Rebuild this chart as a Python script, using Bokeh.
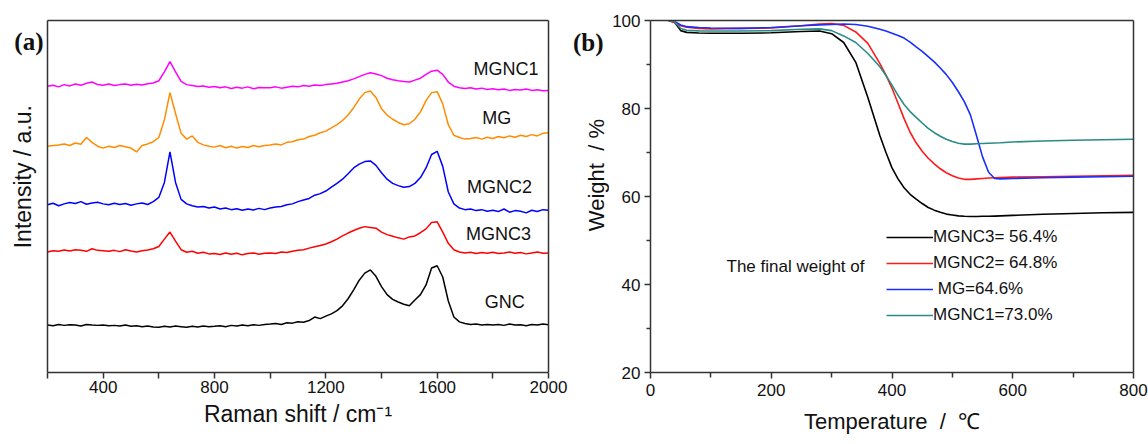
import math
from bokeh.plotting import figure
from bokeh.layouts import row
from bokeh.models import (Range1d, FixedTicker, Label, Legend, LegendItem,
                          ColumnDataSource, LinearAxis)
from bokeh.embed import file_html
from bokeh.resources import INLINE
from bokeh.core.properties import value

# ---------------- data: (a) Raman spectra (offset intensities, a.u.) ----------------
RAMAN_SHIFT = list(range(200, 2001, 20))

GNC = [148, 146, 150, 147, 149, 148, 145, 150, 148, 147,
       148, 146, 147, 145, 148, 144, 146, 143, 145, 142,
       141, 144, 142, 145, 143, 141, 144, 142, 145, 143,
       144, 146, 143, 147, 145, 148, 146, 149, 147, 150,
       151, 153, 150, 155, 154, 158, 157, 162, 173, 168,
       176, 183, 193, 208, 230, 258, 288, 310, 320, 300,
       268, 243, 228, 220, 213, 208, 226, 243, 273, 326,
       333, 298, 223, 173, 158, 153, 150, 151, 148, 150,
       148, 150, 147, 151, 148, 149, 146, 150, 148, 151,
       149]

MGNC3_R = [376, 380, 378, 382, 379, 383, 381, 378, 386, 381,
           380, 378, 381, 377, 383, 379, 376, 380, 382, 386,
           393, 416, 438, 410, 383, 375, 378, 372, 375, 370,
           371, 368, 373, 369, 372, 367, 371, 373, 369, 372,
           373, 371, 376, 374, 378, 381, 383, 388, 392, 396,
           401, 408, 416, 426, 435, 443, 450, 455, 452, 450,
           438, 430, 425, 420, 416, 423, 426, 436, 448, 468,
           470, 438, 403, 383, 376, 373, 375, 371, 374, 372,
           375, 371, 373, 376, 372, 374, 370, 373, 376, 372,
           373]

MGNC2_R = [523, 528, 520, 526, 530, 527, 533, 525, 529, 531,
           526, 523, 528, 524, 527, 522, 526, 529, 524, 533,
           546, 593, 688, 593, 540, 526, 520, 516, 518, 513,
           516, 510, 513, 508, 511, 506, 510, 507, 512, 508,
           513, 516, 518, 523, 526, 533, 538, 543, 553, 558,
           566, 578, 590, 603, 620, 638, 650, 658, 660, 646,
           623, 603, 590, 583, 578, 580, 590, 608, 638, 680,
           690, 643, 563, 526, 513, 508, 510, 505, 508, 503,
           506, 502, 510, 500, 505, 503, 498, 506, 502, 508,
           506]

MG_R = [706, 708, 710, 713, 708, 716, 712, 733, 718, 706,
        700, 706, 702, 708, 704, 700, 688, 708, 713, 720,
        733, 788, 873, 808, 746, 728, 738, 718, 710, 706,
        703, 708, 701, 706, 700, 705, 702, 708, 704, 708,
        710, 713, 710, 718, 720, 726, 728, 736, 740, 748,
        753, 763, 773, 786, 803, 826, 853, 873, 878, 858,
        823, 803, 790, 780, 773, 776, 790, 813, 848, 873,
        876, 838, 773, 740, 733, 728, 730, 733, 728, 734,
        730, 736, 732, 738, 734, 740, 736, 742, 738, 746,
        748]

MGNC1_R = [893, 896, 891, 898, 894, 900, 896, 902, 906, 898,
           896, 900, 895, 898, 900, 896, 899, 897, 901, 903,
           910, 938, 970, 938, 908, 898, 895, 892, 894, 890,
           892, 888, 891, 886, 890, 887, 891, 885, 889, 888,
           888, 891, 887, 890, 893, 891, 895, 893, 897, 895,
           898, 900, 902, 906, 910, 916, 923, 930, 935, 931,
           926, 918, 913, 910, 908, 906, 912, 918, 930, 940,
           943, 930, 906, 893, 888, 886, 888, 884, 887, 883,
           885, 882, 884, 880, 883, 881, 884, 880, 882, 879,
           880]

RAMAN_NAMES = ["MGNC1", "MG", "MGNC2", "MGNC3", "GNC"]

# ---------------- data: (b) TGA curves (weight %) ----------------
TEMP = [30, 40, 50, 60, 80, 100, 150, 200, 250, 280, 300, 320, 340, 360, 380,
        390, 400, 410, 420, 430, 440, 450, 460, 470, 480, 490, 500, 510, 520,
        530, 540, 550, 560, 570, 580, 600, 650, 700, 750, 800]

MGNC3_T = [100, 99.6, 97.7, 97.3, 97.15, 97.1, 97.1, 97.2, 97.5, 97.6, 97.0, 95.0, 90.5, 82.5, 73.8,
           70.0, 66.5, 64.0, 62.0, 60.5, 59.4, 58.4, 57.5, 56.9, 56.4, 56.0, 55.8, 55.6, 55.5,
           55.45, 55.45, 55.5, 55.5, 55.55, 55.6, 55.7, 55.95, 56.15, 56.3, 56.4]
MGNC2_T = [100, 99.5, 98.8, 98.5, 98.2, 98.1, 98.2, 98.3, 98.8, 99.2, 99.3, 98.9, 97.4, 94.8, 90.2,
           87.6, 84.6, 81.2, 77.7, 74.6, 72.2, 70.3, 68.7, 67.4, 66.3, 65.4, 64.7, 64.2, 63.9,
           63.9, 64.0, 64.1, 64.2, 64.25, 64.3, 64.4, 64.5, 64.6, 64.7, 64.8]
MG_T = [100, 99.8, 99.0, 98.6, 98.4, 98.3, 98.2, 98.4, 98.8, 99.0, 99.1, 99.2, 99.1, 98.7, 98.0,
        97.6, 97.1, 96.6, 96.0, 95.1, 94.0, 93.0, 91.8, 90.6, 89.2, 87.7, 85.9, 83.8, 81.5,
        78.5, 73.8, 69.0, 65.5, 64.1, 64.0, 64.1, 64.25, 64.4, 64.5, 64.6]
MGNC1_T = [100, 99.7, 98.2, 97.8, 97.65, 97.6, 97.6, 97.7, 98.0, 98.1, 97.7, 96.5, 95.0, 92.5, 89.5,
           87.5, 85.3, 83.0, 80.9, 79.3, 78.0, 76.7, 75.5, 74.5, 73.7, 73.0, 72.5, 72.1, 71.9,
           71.9, 72.0, 72.05, 72.1, 72.15, 72.2, 72.4, 72.6, 72.8, 72.9, 73.0]
TGA_LABELS = ["MGNC3= 56.4%", "MGNC2= 64.8%", " MG=64.6%", "MGNC1=73.0%"]

# ---------------- styling ----------------
SANS = "Liberation Sans"
SERIF = "Liberation Serif"
AXIS = "#333333"
TXT = "#111111"
H = 444


def style_axis(ax):
    ax.axis_line_color = AXIS
    ax.axis_line_width = 1.5
    ax.major_tick_line_color = AXIS
    ax.minor_tick_line_color = AXIS
    ax.major_tick_line_width = 1.5
    ax.minor_tick_line_width = 1.5
    ax.major_tick_in = 0
    ax.minor_tick_in = 0
    ax.major_label_text_font = SANS
    ax.major_label_text_font_size = "17px"
    ax.major_label_text_color = TXT
    ax.axis_label_text_font = SANS
    ax.axis_label_text_font_style = "normal"
    ax.axis_label_text_color = TXT


def add_box(p):
    """Close the frame with plain axes on top and right (no ticks, no labels)."""
    for side in ("above", "right"):
        ax = LinearAxis(ticker=FixedTicker(ticks=[]), major_tick_out=0, minor_tick_out=0,
                        major_tick_in=0, minor_tick_in=0, major_label_standoff=0,
                        axis_label_standoff=0,
                        axis_line_color=AXIS, axis_line_width=1.5)
        p.add_layout(ax, side)


def strip(width, texts):
    """A narrow text strip holding the panel letter and the y-axis title."""
    s = figure(width=width, height=H, output_backend="svg", toolbar_location=None,
               x_range=Range1d(0, width), y_range=Range1d(0, H),
               x_axis_type=None, y_axis_type=None,
               min_border_left=0, min_border_right=0, min_border_top=0, min_border_bottom=0)
    s.outline_line_color = None
    s.background_fill_color = "white"
    for (x, y, t, font, size, style, align, angle) in texts:
        s.text(x=[x], y=[y], text=[t], text_font=value(font), text_font_size=size,
               text_font_style=style, text_align=align, text_baseline="middle",
               angle=angle, text_color=TXT)
    return s


# ---------------- left strip for panel (a) ----------------
sa = strip(45, [
    (43, H - 26, "(a)", SERIF, "25px", "bold", "right", 0),
    (22, H - 197, "Intensity / a.u.", SANS, "23px", "normal", "center", math.pi / 2),
])

# ---------------- panel (a) ----------------
pa = figure(width=525, height=H, output_backend="svg", toolbar_location=None,
            x_range=Range1d(200, 2000), y_range=Range1d(0, 1098),
            min_border_left=2, min_border_right=22, min_border_top=13, min_border_bottom=65)
pa.xgrid.visible = False
pa.ygrid.visible = False
pa.outline_line_color = None
xa, ya = pa.xaxis[0], pa.yaxis[0]
style_axis(xa)
style_axis(ya)

raman_series = [MGNC1_R, MG_R, MGNC2_R, MGNC3_R, GNC]
raman_colors = ["#FF00FF", "#FF8C00", "#0000FF", "#FF0000", "#000000"]
for ys, c in zip(raman_series, raman_colors):
    pa.line(RAMAN_SHIFT, ys, line_color=c, line_width=1.5)

lab_src = ColumnDataSource(dict(x=[1847, 1814, 1824, 1820, 1843],
                                y=[948, 793, 578, 431, 220],
                                t=RAMAN_NAMES))
pa.text(x="x", y="y", text="t", source=lab_src, text_font=value(SANS),
        text_font_size="18px", text_align="center", text_baseline="middle",
        text_color=TXT)

xa.ticker = FixedTicker(ticks=[400, 800, 1200, 1600, 2000],
                        minor_ticks=[200, 600, 1000, 1400, 1800])
xa.major_tick_out = 6
xa.minor_tick_out = 6
xa.major_label_standoff = 2
xa.axis_label = "Raman shift / cm\u207b\u00b9"
xa.axis_label_text_font_size = "23px"
xa.axis_label_standoff = 5

ya.ticker = FixedTicker(ticks=[])
ya.major_tick_out = 0
ya.minor_tick_out = 0
ya.major_label_standoff = 0
ya.axis_label_standoff = 0

add_box(pa)

# ---------------- left strip for panel (b) ----------------
sb = strip(39, [
    (33, H - 27.5, "(b)", SERIF, "25px", "bold", "right", 0),
    (26, H - 195, "Weight\u00a0\u00a0/\u00a0%", SANS, "22px", "normal", "center", math.pi / 2),
])

# ---------------- panel (b) ----------------
pb = figure(width=539, height=H, output_backend="svg", toolbar_location=None,
            x_range=Range1d(0, 800), y_range=Range1d(20, 100),
            min_border_left=38, min_border_right=15, min_border_top=20, min_border_bottom=72)
pb.xgrid.visible = False
pb.ygrid.visible = False
pb.outline_line_color = None
xb, yb = pb.xaxis[0], pb.yaxis[0]
style_axis(xb)
style_axis(yb)

tga_series = [MGNC3_T, MGNC2_T, MG_T, MGNC1_T]
tga_colors = ["#000000", "#FF1A1A", "#1A2EFF", "#2A8C84"]
renderers = []
for ys, c in zip(tga_series, tga_colors):
    renderers.append(pb.line(TEMP, ys, line_color=c, line_width=1.6))

xb.ticker = FixedTicker(ticks=[0, 200, 400, 600, 800], minor_ticks=[100, 300, 500, 700])
xb.major_tick_out = 6
xb.minor_tick_out = 5
xb.major_label_standoff = 5
xb.axis_label = "Temperature\u00a0\u00a0/\u00a0\u00a0\u2103"
xb.axis_label_text_font_size = "22px"
xb.axis_label_standoff = 10

yb.ticker = FixedTicker(ticks=[20, 40, 60, 80, 100], minor_ticks=[30, 50, 70, 90])
yb.major_tick_out = 6
yb.minor_tick_out = 4
yb.major_label_standoff = 4
yb.axis_label_standoff = 0

add_box(pb)

legend = Legend(items=[LegendItem(label=l, renderers=[r]) for l, r in zip(TGA_LABELS, renderers)],
                location=(236, 47), label_text_font=SANS, label_text_font_size="17px",
                label_text_color=TXT, glyph_width=47, glyph_height=20, label_height=20,
                label_standoff=0, spacing=6, padding=0, margin=0,
                border_line_alpha=0, background_fill_alpha=0)
pb.add_layout(legend)

pb.add_layout(Label(x=76, y=106, x_units="screen", y_units="screen", text="The final weight of",
                    text_font=SANS, text_font_size="17px", text_baseline="middle",
                    text_color=TXT))

layout = row(sa, pa, sb, pb)
open("out.html", "w").write(file_html(layout, INLINE))
